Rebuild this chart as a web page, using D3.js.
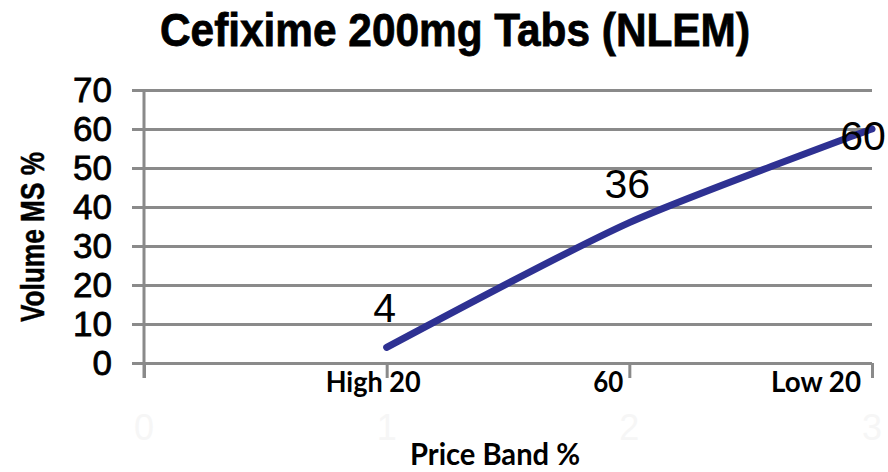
<!DOCTYPE html>
<html>
<head>
<meta charset="utf-8">
<script src="https://cdn.jsdelivr.net/npm/d3@7"></script>
<style>
  html, body { margin: 0; padding: 0; background: #ffffff; }
  svg { display: block; }
</style>
</head>
<body>
<div id="chart"></div>
<script>
// ---- data ----
const chartTitle = "Cefixime 200mg Tabs (NLEM)";
const yAxisTitle = "Volume MS %";
const xAxisTitle = "Price Band %";
const categories = ["", "High 20", "60", "Low 20"];
const volumeMS = [null, 4, 36, 60];
const yTicks = [0, 10, 20, 30, 40, 50, 60, 70];
const hiddenIndexLabels = ["0", "1", "2", "3"];

// ---- layout ----
const W = 888, H = 472;
const svg = d3.select("#chart").append("svg").attr("width", W).attr("height", H);

const x = d3.scaleLinear().domain([0, categories.length - 1]).range([144, 872]);
const y = d3.scaleLinear().domain([0, 70]).range([363, 90]);
const gridColor = "#8a8a8a";

// title
svg.append("text")
  .attr("x", 160).attr("y", 46)
  .attr("textLength", 590).attr("lengthAdjust", "spacingAndGlyphs")
  .style("font-family", "'Liberation Sans', Arial, sans-serif")
  .style("font-weight", "bold").style("font-size", "47px")
  .attr("fill", "#000").attr("stroke", "#000").attr("stroke-width", 0.8)
  .text(chartTitle);

// y axis with gridlines
const yAxis = d3.axisLeft(y).tickValues(yTicks)
  .tickSizeInner(-(872 - 132)).tickSizeOuter(0).tickPadding(20);
const gy = svg.append("g").attr("transform", "translate(132,0)").call(yAxis);
gy.select(".domain").remove();
gy.selectAll(".tick line").attr("stroke", gridColor).attr("stroke-width", 3);
gy.selectAll(".tick text")
  .style("font-family", "'Liberation Sans', Arial, sans-serif")
  .style("font-size", "35px").attr("fill", "#000")
  .attr("stroke", "#000").attr("stroke-width", 0.8);

// x axis ticks
const xAxis = d3.axisBottom(x).tickValues(d3.range(categories.length))
  .tickSize(15).tickFormat("");
const gx = svg.append("g").attr("transform", "translate(0,363)").call(xAxis);
gx.select(".domain").remove();
gx.selectAll(".tick line").attr("stroke", gridColor).attr("stroke-width", 3);

// vertical axis line
svg.append("line")
  .attr("x1", x(0)).attr("x2", x(0))
  .attr("y1", y(70)).attr("y2", y(0) + 15)
  .attr("stroke", gridColor).attr("stroke-width", 3);

// category labels (right edges relative to ticks)
const catLabelDx = [0, 34, -6, -11];
const catLabelLen = [0, 95, 30, 90];
svg.append("g").selectAll("text")
  .data(categories.map((c, i) => ({ c, i })).filter(d => d.c !== ""))
  .join("text")
  .attr("x", d => x(d.i) + catLabelDx[d.i])
  .attr("y", 392)
  .attr("text-anchor", "end")
  .attr("textLength", d => catLabelLen[d.i]).attr("lengthAdjust", "spacingAndGlyphs")
  .style("font-family", "Lato, 'Open Sans', sans-serif")
  .style("font-weight", "bold").style("font-size", "28px")
  .attr("fill", "#000")
  .text(d => d.c);

// faint hidden index labels
svg.append("g").selectAll("text")
  .data(hiddenIndexLabels)
  .join("text")
  .attr("x", (d, i) => x(i)).attr("y", 440)
  .attr("text-anchor", "middle")
  .style("font-family", "'Liberation Sans', Arial, sans-serif")
  .style("font-size", "36px")
  .attr("fill", "#f6f6f6")
  .text(d => d);

// x axis title
svg.append("text")
  .attr("x", 495).attr("y", 465)
  .attr("text-anchor", "middle")
  .attr("textLength", 170).attr("lengthAdjust", "spacingAndGlyphs")
  .style("font-family", "Lato, 'Open Sans', sans-serif")
  .style("font-weight", "bold").style("font-size", "30px")
  .attr("fill", "#000")
  .text(xAxisTitle);

// y axis title
svg.append("text")
  .attr("transform", "translate(44,237) rotate(-90)")
  .attr("text-anchor", "middle")
  .attr("textLength", 170).attr("lengthAdjust", "spacingAndGlyphs")
  .style("font-family", "'Liberation Sans', Arial, sans-serif")
  .style("font-weight", "bold").style("font-size", "34px")
  .attr("fill", "#000").attr("stroke", "#000").attr("stroke-width", 0.5)
  .text(yAxisTitle);

// line
const pts = volumeMS.map((v, i) => ({ i, v })).filter(d => d.v !== null);
const line = d3.line()
  .x(d => x(d.i)).y(d => y(d.v))
  .curve(d3.curveCardinal.tension(0.3));
svg.append("path")
  .datum(pts)
  .attr("d", line)
  .attr("fill", "none")
  .attr("stroke", "#2e3192")
  .attr("stroke-width", 7)
  .attr("stroke-linecap", "round")
  .attr("stroke-linejoin", "round");

// data labels
const labelOffset = (d, idx, n) => idx === n - 1 ? { dx: -9, dy: 21 } : { dx: -2, dy: -25 };
svg.append("g").selectAll("text")
  .data(pts)
  .join("text")
  .attr("x", (d, k) => x(d.i) + labelOffset(d, k, pts.length).dx)
  .attr("y", (d, k) => y(d.v) + labelOffset(d, k, pts.length).dy)
  .attr("text-anchor", "middle")
  .style("font-family", "'Liberation Sans', Arial, sans-serif")
  .style("font-size", "41px")
  .attr("fill", "#000")
  .text(d => d.v);
</script>
</body>
</html>
